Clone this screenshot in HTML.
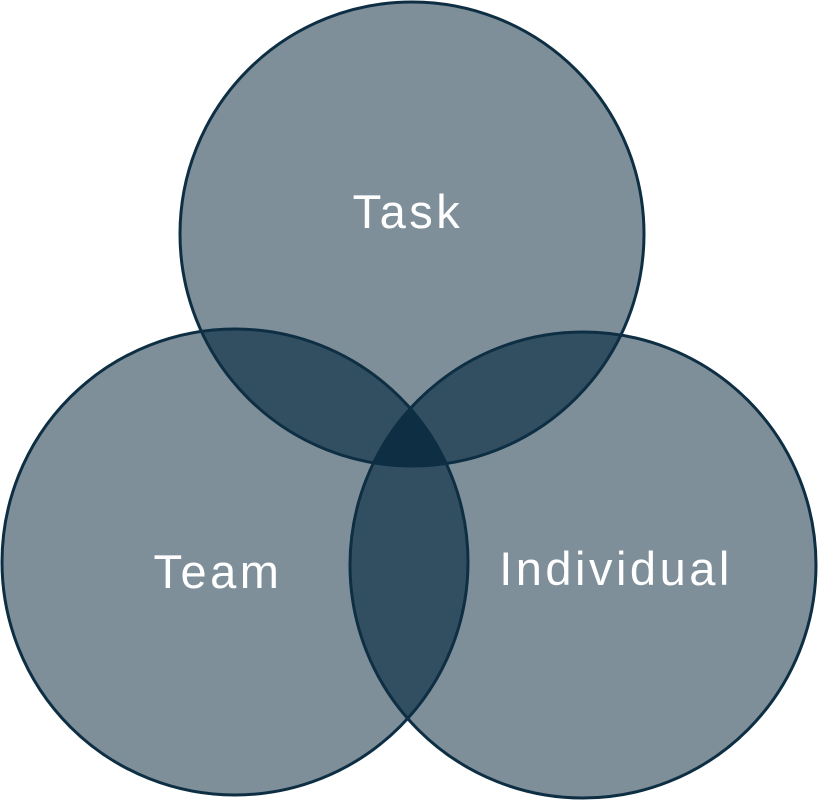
<!DOCTYPE html>
<html><head><style>html,body{margin:0;padding:0;background:#fff;width:818px;height:800px;overflow:hidden}</style></head>
<body>
<svg width="818" height="800" viewBox="0 0 818 800" xmlns="http://www.w3.org/2000/svg">
<defs>
<clipPath id="cT"><circle cx="412" cy="234" r="232"/></clipPath>
<clipPath id="cL"><circle cx="235" cy="562" r="233"/></clipPath>
<clipPath id="cR"><circle cx="583" cy="565" r="233"/></clipPath>
</defs>
<g fill="#7e8f99">
<circle cx="412" cy="234" r="232"/>
<circle cx="235" cy="562" r="233"/>
<circle cx="583" cy="565" r="233"/>
</g>
<g fill="#324f62">
<g clip-path="url(#cT)"><circle cx="235" cy="562" r="233"/><circle cx="583" cy="565" r="233"/></g>
<g clip-path="url(#cL)"><circle cx="583" cy="565" r="233"/></g>
</g>
<g clip-path="url(#cT)"><g clip-path="url(#cL)"><circle cx="583" cy="565" r="233" fill="#0e2f43"/></g></g>
<g fill="none" stroke="#0e2f43" stroke-width="3">
<circle cx="412" cy="234" r="232"/>
<circle cx="235" cy="562" r="233"/>
<circle cx="583" cy="565" r="233"/>
</g>
<g fill="#fff" font-family="Liberation Sans, sans-serif" font-size="47" letter-spacing="3.5" text-anchor="middle">
<text x="408" y="228">Task</text>
<text x="218" y="588">Team</text>
<text x="616" y="585">Individual</text>
</g>
</svg>
</body></html>
